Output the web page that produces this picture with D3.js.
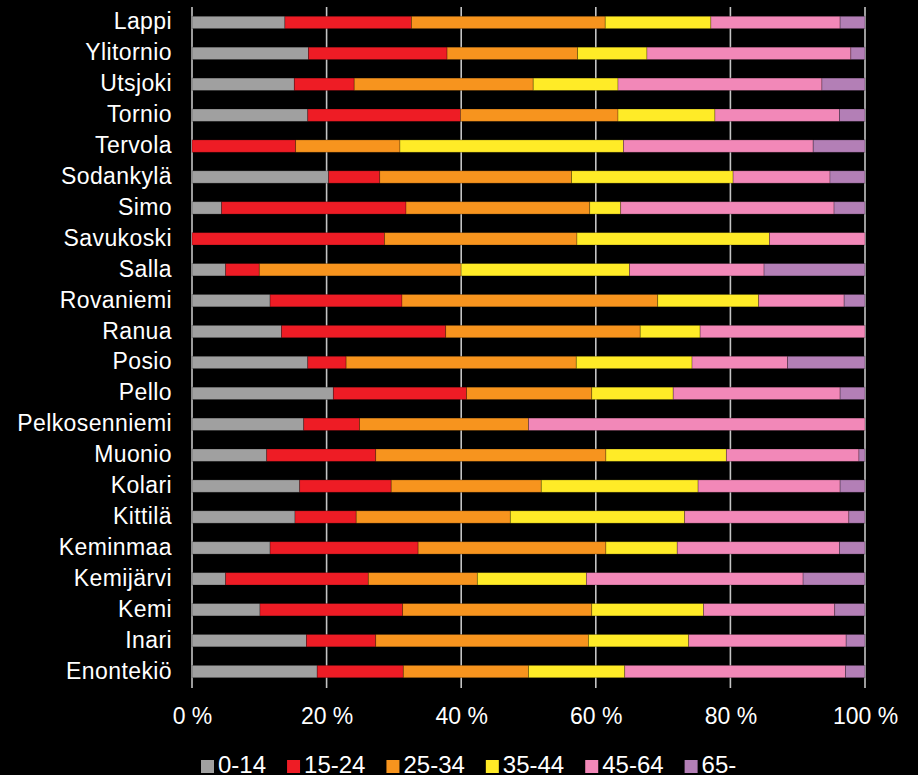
<!DOCTYPE html>
<html>
<head>
<meta charset="utf-8">
<script src="https://cdn.jsdelivr.net/npm/d3@7"></script>
<style>
  html, body { margin: 0; padding: 0; background: #000; }
  svg { display: block; }
  text { font-family: "Liberation Sans", Arial, sans-serif; fill: #fff; }
</style>
</head>
<body>
<script>
const categories = ["Lappi","Ylitornio","Utsjoki","Tornio","Tervola","Sodankylä","Simo","Savukoski","Salla","Rovaniemi","Ranua","Posio","Pello","Pelkosenniemi","Muonio","Kolari","Kittilä","Keminmaa","Kemijärvi","Kemi","Inari","Enontekiö"];
const seriesNames = ["0-14","15-24","25-34","35-44","45-64","65-"];
const age0_14  = [13.8,17.3,15.2,17.2, 0.0,20.3, 4.4, 0.0, 5.0,11.6,13.3,17.2,21.0,16.6,11.1,16.0,15.3,11.6, 5.0,10.1,17.0,18.6];
const age15_24 = [18.8,20.6, 8.9,22.7,15.4, 7.6,27.4,28.6, 5.0,19.6,24.4, 5.7,19.8, 8.3,16.2,13.6, 9.1,22.0,21.2,21.2,10.3,12.8];
const age25_34 = [28.8,19.4,26.6,23.4,15.5,28.5,27.3,28.6,30.0,38.0,28.9,34.2,18.6,25.1,34.2,22.3,22.9,27.9,16.2,28.1,31.6,18.6];
const age35_44 = [15.7,10.3,12.6,14.4,33.2,24.0, 4.6,28.6,25.0,15.0, 8.9,17.2,12.1, 0.0,17.9,23.3,25.9,10.6,16.2,16.6,14.9,14.3];
const age45_64 = [19.2,30.3,30.3,18.5,28.2,14.4,31.7,14.2,20.0,12.7,24.5,14.2,24.8,50.0,19.7,21.1,24.4,24.1,32.2,19.5,23.4,32.8];
const age65    = [ 3.7, 2.1, 6.4, 3.8, 7.7, 5.2, 4.6, 0.0,15.0, 3.1, 0.0,11.5, 3.7, 0.0, 0.9, 3.7, 2.4, 3.8, 9.2, 4.5, 2.8, 2.9];
const tickLabels = ["0 %","20 %","40 %","60 %","80 %","100 %"];
const colors = ["#a0a0a0","#ee1c25","#f7941e","#ffeb27","#f288b8","#b37fb6"];

const seriesValues = [age0_14, age15_24, age25_34, age35_44, age45_64, age65];
const table = categories.map((c, i) => {
  const row = { cat: c };
  seriesNames.forEach((s, j) => row[s] = seriesValues[j][i]);
  return row;
});

const W = 918, H = 775;
const svg = d3.select("body").append("svg").attr("width", W).attr("height", H);
svg.append("rect").attr("width", W).attr("height", H).attr("fill", "#000");

const x = d3.scaleLinear().domain([0, 1]).range([192, 865]);
const y = d3.scaleBand().domain(categories).range([7, 687]).paddingInner(0.6).paddingOuter(0.3);

const stacked = d3.stack().keys(seriesNames).offset(d3.stackOffsetExpand)(table);

// gridlines
const tickVals = [0, 0.2, 0.4, 0.6, 0.8, 1];
svg.append("g").selectAll("line").data(tickVals).join("line")
  .attr("x1", d => x(d)).attr("x2", d => x(d))
  .attr("y1", 7).attr("y2", 688)
  .attr("stroke", "#c4c4c4").attr("stroke-width", 1.6);

// bars
svg.append("g").selectAll("g").data(stacked).join("g")
  .attr("fill", (d, i) => colors[i])
  .selectAll("rect").data(d => d).join("rect")
  .attr("x", d => x(d[0]))
  .attr("width", d => Math.max(0, x(d[1]) - x(d[0])))
  .attr("y", d => y(d.data.cat))
  .attr("height", y.bandwidth())
  .attr("stroke", "rgba(0,0,0,0.3)").attr("stroke-width", 0.8);

// category labels
svg.append("g").selectAll("text").data(categories).join("text")
  .attr("x", 172).attr("y", d => y(d) + y.bandwidth() / 2 + 7)
  .attr("text-anchor", "end").attr("font-size", 23)
  .attr("letter-spacing", 0.4)
  .text(d => d);

// x axis tick labels
const xAxis = d3.axisBottom(x).tickValues(tickVals).tickFormat((d, i) => tickLabels[i]).tickSize(0).tickPadding(0);
const gx = svg.append("g").attr("transform", "translate(0,700)").call(xAxis);
gx.select(".domain").remove();
gx.selectAll("text").attr("font-size", 23).attr("fill", "#fff")
  .attr("font-family", "Liberation Sans, Arial, sans-serif")
  .attr("dy", null).attr("y", 24);

// legend
const lg = svg.append("g");
let lx = 201;
seriesNames.forEach((s, i) => {
  lg.append("rect").attr("x", lx).attr("y", 760).attr("width", 13).attr("height", 13).attr("fill", colors[i]);
  const t = lg.append("text").attr("x", lx + 17).attr("y", 773).attr("font-size", 24).text(s);
  lx = lx + 17 + t.node().getComputedTextLength() + 21;
});
</script>
</body>
</html>
